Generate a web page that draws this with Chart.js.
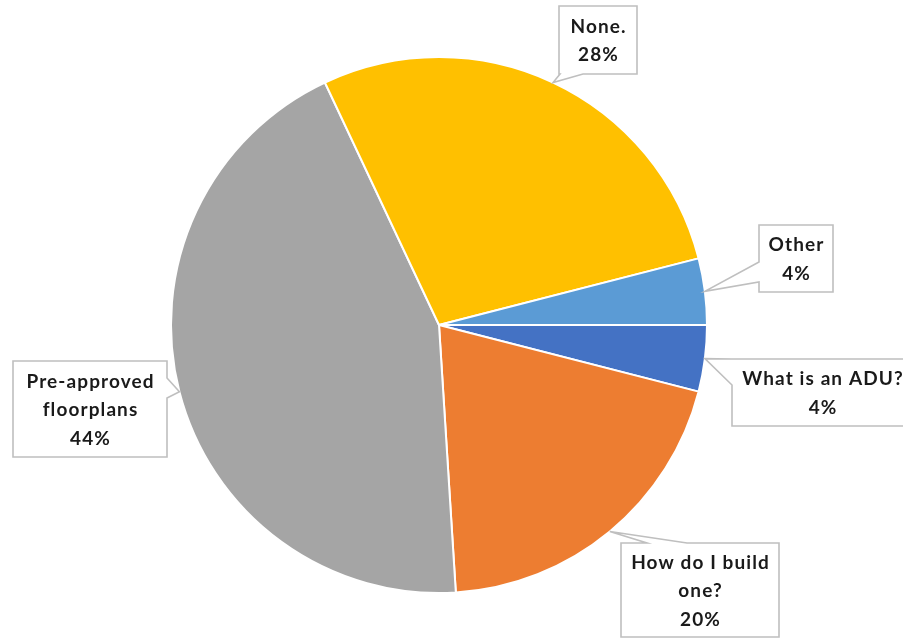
<!DOCTYPE html>
<html>
<head>
<meta charset="utf-8">
<script src="https://cdn.jsdelivr.net/npm/chart.js@4.4.1/dist/chart.umd.min.js"></script>
<style>
  html, body { margin: 0; padding: 0; background: #ffffff; }
  #wrap { width: 903px; height: 639px; }
</style>
</head>
<body>
<div id="wrap"><canvas id="c" width="903" height="639"></canvas></div>
<script>
// ---- data ----
const categories = ['What is an ADU?', 'How do I build one?', 'Pre-approved floorplans', 'None.', 'Other'];
const labelLines = [['What is an ADU?'], ['How do I build', 'one?'], ['Pre-approved', 'floorplans'], ['None.'], ['Other']];
const values = [4, 20, 44, 28, 4];
const sliceColors = ['#4472C4', '#ED7D31', '#A5A5A5', '#FFC000', '#5B9BD5'];

// ---- callout box layout (style only) ----
const callouts = [
  { x: 732, y: 359, w: 181, h: 67, side: 'left',   a: 0,  b: 26 },
  { x: 621, y: 543, w: 158, h: 94, side: 'top',    a: 26, b: 66 },
  { x: 13,  y: 361, w: 154, h: 96, side: 'right',  a: 17, b: 37 },
  { x: 559, y: 6,   w: 78,  h: 68, side: 'bottom', a: 1,  b: 24 },
  { x: 759, y: 225, w: 74,  h: 67, side: 'left',   a: 37, b: 57 }
];

const calloutPlugin = {
  id: 'callouts',
  afterDatasetsDraw(chart) {
    const ctx = chart.ctx;
    const meta = chart.getDatasetMeta(0);
    const total = values.reduce((s, v) => s + v, 0);
    meta.data.forEach((arc, i) => {
      const p = arc.getProps(['x', 'y', 'startAngle', 'endAngle', 'outerRadius'], true);
      const mid = (p.startAngle + p.endAngle) / 2;
      const tx = p.x + Math.cos(mid) * p.outerRadius;
      const ty = p.y + Math.sin(mid) * p.outerRadius;
      const c = callouts[i];
      const { x, y, w, h, side, a, b } = c;
      ctx.save();
      ctx.beginPath();
      ctx.moveTo(x, y);
      if (side === 'top') { ctx.lineTo(x + a, y); ctx.lineTo(tx, ty); ctx.lineTo(x + b, y); }
      ctx.lineTo(x + w, y);
      if (side === 'right') { ctx.lineTo(x + w, y + a); ctx.lineTo(tx, ty); ctx.lineTo(x + w, y + b); }
      ctx.lineTo(x + w, y + h);
      if (side === 'bottom') { ctx.lineTo(x + b, y + h); ctx.lineTo(tx, ty); ctx.lineTo(x + a, y + h); }
      ctx.lineTo(x, y + h);
      if (side === 'left') { ctx.lineTo(x, y + b); ctx.lineTo(tx, ty); ctx.lineTo(x, y + a); }
      ctx.closePath();
      ctx.fillStyle = '#ffffff';
      ctx.fill();
      ctx.lineWidth = 1.6;
      ctx.strokeStyle = '#BFBFBF';
      ctx.lineJoin = 'miter';
      ctx.stroke();

      const pct = Math.round(values[i] / total * 100) + '%';
      const lines = labelLines[i].concat([pct]);
      const lh = 28.5;
      const ls = 1.1;
      ctx.fillStyle = '#1a1a1a';
      ctx.font = 'bold 19px Lato, "Open Sans", sans-serif';
      try { ctx.letterSpacing = ls + 'px'; } catch (e) {}
      ctx.textAlign = 'center';
      ctx.textBaseline = 'middle';
      const cy = y + h / 2 + 1;
      const startY = cy - (lines.length - 1) * lh / 2;
      lines.forEach((t, k) => ctx.fillText(t, x + w / 2 + ls / 2, startY + k * lh));
      ctx.restore();
    });
  }
};

const bgPlugin = {
  id: 'bg',
  beforeDraw(chart) {
    const ctx = chart.ctx;
    ctx.save();
    ctx.fillStyle = '#ffffff';
    ctx.fillRect(0, 0, chart.width, chart.height);
    ctx.restore();
  }
};

new Chart(document.getElementById('c'), {
  type: 'pie',
  data: {
    labels: categories,
    datasets: [{
      data: values,
      backgroundColor: sliceColors,
      borderColor: '#ffffff',
      borderWidth: 2,
      hoverOffset: 0
    }]
  },
  options: {
    responsive: false,
    animation: false,
    rotation: 90,
    layout: { padding: { left: 170, right: 195, top: 56, bottom: 45 } },
    plugins: {
      legend: { display: false },
      tooltip: { enabled: false },
      title: { display: false }
    }
  },
  plugins: [bgPlugin, calloutPlugin]
});
</script>
</body>
</html>
